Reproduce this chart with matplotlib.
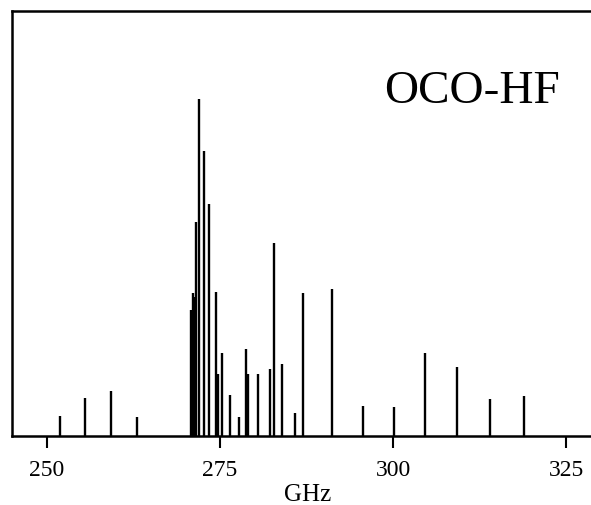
import numpy as np
import matplotlib
matplotlib.use("Agg")
import matplotlib.pyplot as plt

plt.rcParams['font.family'] = ['Liberation Serif', 'DejaVu Serif']

# line positions (GHz) and relative intensities
freq = [251.88, 255.53, 259.25, 262.96, 270.81, 271.10, 271.40, 271.53,
        272.03, 272.69, 273.45, 274.37, 274.52, 274.67, 275.25, 276.45,
        277.67, 278.73, 279.10, 280.55, 282.16, 282.75, 283.96, 285.84,
        287.00, 291.23, 295.66, 300.14, 304.62, 309.29, 314.02, 318.89]
inten = [19.5, 37.5, 44.5, 18.5, 125.5, 142.5, 138.5, 213.5,
         336.5, 284.5, 231.5, 143.5, 61.5, 61.5, 82.5, 40.5,
         18.5, 86.5, 61.5, 61.5, 66.5, 192.5, 71.5, 22.5,
         142.5, 146.5, 29.5, 28.5, 82.5, 68.5, 36.5, 39.5]
ticks = [250, 275, 300, 325]

fig = plt.figure(figsize=(5.91, 5.05), dpi=100)
ax = fig.add_axes([12/591, 69.5/505, 1 - 12/591, (435.5-11)/505])

ax.vlines(freq, 0, inten, colors='black', linewidth=1.7)

ax.set_xlim(244.94, 328.6)
ax.set_ylim(0, 424.5)
ax.set_xticks(ticks)
ax.set_yticks([])
ax.tick_params(axis='x', direction='out', length=8.5, width=1.5, labelsize=17, pad=9)
ax.spines['right'].set_visible(False)
for s in ['left', 'top', 'bottom']:
    ax.spines[s].set_linewidth(1.8)

fig.text(308/591, 1 - 501/505, 'GHz', fontsize=18, ha='center', va='baseline')
fig.text(472/591, 1 - 103/505, 'OCO-HF', fontsize=34, ha='center', va='baseline')

fig.savefig('out.png', dpi=100)
